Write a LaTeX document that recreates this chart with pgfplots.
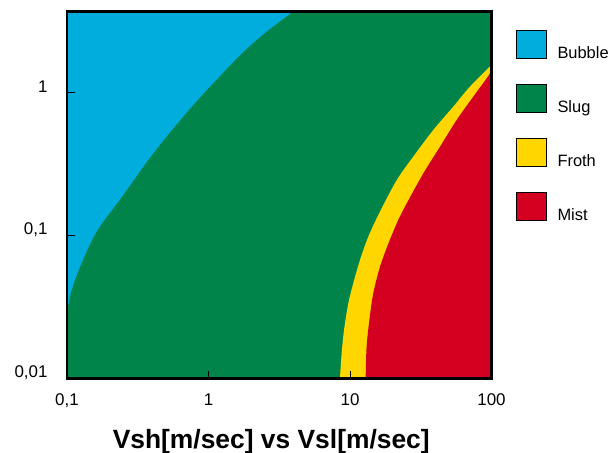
\documentclass[border=0pt]{standalone}
\usepackage{fontspec}
\setmainfont{Liberation Sans}
\usepackage{pgfplots}
\pgfplotsset{compat=1.18}

\definecolor{bubble}{RGB}{0,173,220}
\definecolor{slug}{RGB}{0,132,74}
\definecolor{froth}{RGB}{255,214,0}
\definecolor{mist}{RGB}{212,0,32}

\begin{document}
\begin{tikzpicture}
\useasboundingbox (-67bp,-74.5bp) rectangle (542bp,378.5bp);
\begin{axis}[
  at={(0,0)}, anchor=south west,
  scale only axis, width=424.5bp, height=366.8bp,
  xmode=log, ymode=log,
  xmin=0.1, xmax=100, ymin=0.01, ymax=3.67,
  xtick={0.1,1,10,100}, xticklabels={{0,1},1,10,100},
  ytick={0.01,0.1,1}, yticklabels={{0,01},{0,1},1},
  xminorticks=false, yminorticks=false,
  xtick pos=lower, ytick pos=left,
  tick align=inside, major tick length=8bp,
  tick style={line width=0.8bp, black},
  axis line style={line width=2.5bp},
  axis on top,
  tick label style={font=\fontsize{17}{20}\selectfont},
  xticklabel style={yshift=-12bp},
  yticklabel style={xshift=-16bp, yshift=6bp},
  xlabel={Vsh[m/sec] vs Vsl[m/sec]},
  xlabel style={font=\fontsize{26.5}{30}\selectfont\bfseries, yshift=-14.5bp, xshift=-8bp},
  legend image code/.code={\draw[#1, draw=black, line width=0.8bp] (0bp,-5bp) rectangle (30bp,23bp);},
  legend style={at={(axis description cs:1,1)}, anchor=north west,
    xshift=24bp, yshift=-18bp, draw=none, fill=none, inner sep=0pt,
    font=\fontsize{16.5}{19}\selectfont, row sep=22bp, column sep=9bp,
    cells={anchor=west}},
]
\addlegendimage{fill=bubble}
\addlegendimage{fill=slug}
\addlegendimage{fill=froth}
\addlegendimage{fill=mist}
\legend{Bubble,Slug,Froth,Mist}

% slug region covers the whole field
\addplot[fill=slug, draw=none, forget plot] coordinates {
  (0.1,0.01) (100,0.01) (100,3.8) (0.1,3.8)
} -- cycle;

% bubble flow, upper left (outer corners lie outside the clip box)
\addplot[fill=bubble, draw=none, smooth, tension=0.5, forget plot] coordinates {
  (0.095,0.022) (0.1,0.0288) (0.105,0.0377) (0.114,0.0492) (0.127,0.0644)
  (0.145,0.0865) (0.171,0.116) (0.237,0.179) (0.310,0.260) (0.386,0.351)
  (0.533,0.525) (0.79,0.83) (1.14,1.23) (1.75,1.91) (2.58,2.67)
  (3.94,3.68) (5,4.6) (0.05,6) (0.05,0.02)
} -- cycle;

% froth band
\addplot[fill=froth, draw=none, smooth, tension=0.5, forget plot] coordinates {
  (8.4,0.008) (8.49,0.01) (8.73,0.0150) (9.07,0.0218) (9.73,0.0336) (10.55,0.0464)
  (11.77,0.0675) (13.47,0.0981) (16.3,0.147) (21.4,0.244)
  (28.0,0.356) (38.8,0.547) (53.7,0.796) (70.5,1.10) (100,1.56)
  (140,2.2) (200,1) (200,0.005) (8.4,0.005)
} -- cycle;

% mist region
\addplot[fill=mist, draw=none, smooth, tension=0.5, forget plot] coordinates {
  (12.9,0.008) (12.9,0.01) (13.1,0.0167) (13.7,0.0256) (14.6,0.0394) (16.3,0.0605)
  (18.7,0.0881) (21.9,0.128) (25.2,0.168) (33.0,0.272) (43.3,0.418)
  (56.8,0.643) (74.3,0.935) (97.5,1.36) (100,1.56)
  (105,2.2) (200,1) (200,0.005) (12.9,0.005)
} -- cycle;
\end{axis}
\end{tikzpicture}
\end{document}
